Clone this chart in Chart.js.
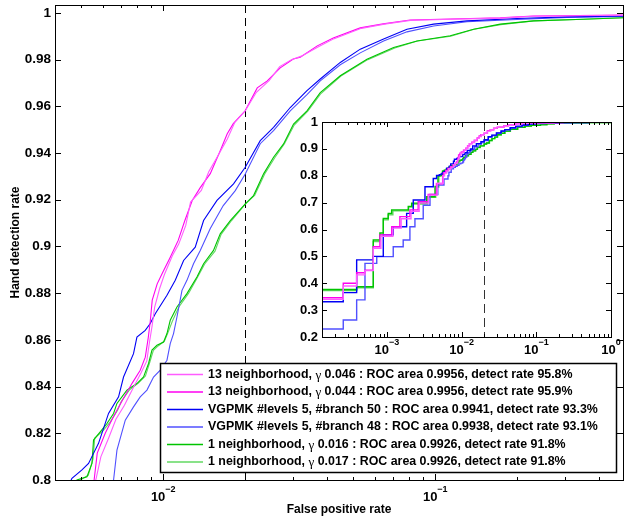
<!DOCTYPE html>
<html lang="en">
<head>
<meta charset="UTF-8">
<title>Hand detection ROC</title>
<style>
  body { margin: 0; background: #fff; }
  #wrap { position: relative; width: 625px; height: 519px; }
  #mainChart { position: absolute; left: 0; top: 0; }
  #insetChart { position: absolute; left: 290px; top: 112px; }
</style>
<script src="https://cdn.jsdelivr.net/npm/chart.js"></script>
</head>
<body>
<div id="wrap">
  <canvas id="mainChart" width="625" height="519"></canvas>
  <canvas id="insetChart" width="335" height="255"></canvas>
</div>
<script>
// legend text, one per curve
const seriesLabels = [
  '13 neighborhood, γ 0.046 : ROC area 0.9956, detect rate 95.8%',
  '13 neighborhood, γ 0.044 : ROC area 0.9956, detect rate 95.9%',
  'VGPMK #levels 5, #branch 50 : ROC area 0.9941, detect rate 93.3%',
  'VGPMK #levels 5, #branch 48 : ROC area 0.9938, detect rate 93.1%',
  '1 neighborhood, γ 0.016 : ROC area 0.9926, detect rate 91.8%',
  '1 neighborhood, γ 0.017 : ROC area 0.9926, detect rate 91.8%'
];

// false positive rate / detection rate
const fprM46 = [1e-4, 2.6e-4, 3.93e-4, 5.08e-4, 6.56e-4, 8.3e-4, 1.2e-3, 1.55e-3, 2.1e-3, 2.7e-3, 3.6e-3, 4.7e-3,
  0.00565, 0.0059, 0.0063, 0.0067, 0.0072, 0.0078, 0.0083, 0.0087, 0.0089, 0.0091, 0.0093, 0.0097, 0.0101, 0.0108,
  0.0114, 0.0121, 0.0126, 0.0138, 0.0147, 0.0161, 0.0172, 0.0183, 0.0200, 0.0220, 0.0245, 0.0268, 0.0296, 0.0322,
  0.0372, 0.0425, 0.0535, 0.065, 0.081, 0.114, 0.173, 0.229, 0.49, 1];
const tprM46 = [0.340, 0.390, 0.431, 0.447, 0.530, 0.575, 0.605, 0.640, 0.668, 0.698, 0.728, 0.772,
  0.800, 0.810, 0.818, 0.826, 0.832, 0.840, 0.846, 0.851, 0.859, 0.866, 0.874, 0.882, 0.888, 0.896,
  0.901, 0.909, 0.919, 0.924, 0.932, 0.940, 0.946, 0.953, 0.958, 0.966, 0.971, 0.977, 0.980, 0.9815,
  0.9855, 0.989, 0.9934, 0.9952, 0.9968, 0.9973, 0.9978, 0.9986, 0.9990, 1];

const fprM44 = [1e-4, 2.6e-4, 3.93e-4, 5.08e-4, 6.56e-4, 8.05e-4, 1.16e-3, 1.49e-3, 2.03e-3, 2.62e-3, 3.57e-3, 4.6e-3,
  0.00557, 0.00572, 0.00612, 0.00655, 0.00707, 0.00769, 0.00823, 0.00859, 0.00881, 0.00896, 0.00911, 0.0095, 0.00992,
  0.0106, 0.01135, 0.0120, 0.01278, 0.01368, 0.01489, 0.0162, 0.01719, 0.01809, 0.0200, 0.02216, 0.02412, 0.02692,
  0.03006, 0.03189, 0.03683, 0.04217, 0.053, 0.0644, 0.0809, 0.1135, 0.1734, 0.2293, 0.4912, 1];
const tprM44 = [0.346, 0.400, 0.439, 0.449, 0.536, 0.580, 0.610, 0.648, 0.673, 0.703, 0.730, 0.770,
  0.800, 0.8115, 0.820, 0.827, 0.834, 0.8415, 0.847, 0.8526, 0.861, 0.868, 0.877, 0.884, 0.8885,
  0.8953, 0.9026, 0.911, 0.9197, 0.9252, 0.9312, 0.941, 0.9483, 0.9526, 0.9581, 0.9679, 0.9709, 0.9765,
  0.9803, 0.981, 0.9859, 0.9893, 0.9936, 0.9953, 0.997, 0.9974, 0.9979, 0.9987, 0.9991, 1];

const fprB50 = [1e-4, 2.6e-4, 3.93e-4, 6.56e-4, 8.93e-4, 1.214e-3, 1.835e-3, 2.25e-3, 3.23e-3, 4.17e-3,
  0.004617, 0.005025, 0.005314, 0.005542, 0.005782, 0.006293, 0.006851, 0.007145, 0.007775, 0.008003, 0.008587,
  0.008958, 0.009346, 0.01032, 0.01107, 0.01188, 0.01311, 0.01407, 0.01576, 0.01813, 0.02002, 0.02273, 0.02544,
  0.0293, 0.03376, 0.03778, 0.04475, 0.053, 0.06457, 0.0787, 0.09858, 0.1308, 0.1998, 0.305, 0.4995, 1];
const tprB50 = [0.331, 0.365, 0.487, 0.500, 0.580, 0.610, 0.660, 0.710, 0.759, 0.790,
  0.8007, 0.8043, 0.8071, 0.8114, 0.8157, 0.8285, 0.8356, 0.8441, 0.8541, 0.8612, 0.8641,
  0.867, 0.8712, 0.8791, 0.8855, 0.894, 0.8997, 0.9111, 0.9197, 0.9268, 0.9339, 0.9453, 0.951,
  0.9595, 0.9667, 0.9717, 0.9788, 0.9845, 0.9888, 0.993, 0.9952, 0.9966, 0.9976, 0.9983, 0.9987, 1];

const fprB48 = [1e-4, 2.6e-4, 3.93e-4, 5.08e-4, 7.3e-4, 1.214e-3, 1.65e-3, 2.03e-3, 2.37e-3, 3.06e-3, 3.77e-3, 4.8e-3, 5.8e-3,
  0.006567, 0.006758, 0.007251, 0.007775, 0.008229, 0.008712, 0.009211, 0.00975, 0.01032, 0.01061, 0.01091, 0.01123,
  0.01172, 0.01222, 0.01292, 0.01368, 0.01489, 0.01662, 0.0184, 0.02002, 0.02273, 0.02544, 0.0293, 0.03376, 0.03778,
  0.04475, 0.053, 0.06457, 0.0787, 0.09858, 0.1308, 0.1998, 0.305, 0.4995, 1];
const tprB48 = [0.230, 0.263, 0.338, 0.474, 0.499, 0.536, 0.561, 0.610, 0.640, 0.690, 0.730, 0.765, 0.788,
  0.800, 0.8128, 0.8256, 0.8313, 0.8356, 0.8385, 0.8441, 0.847, 0.8513, 0.8584, 0.8627, 0.8698,
  0.8812, 0.8855, 0.8926, 0.8983, 0.9077, 0.9175, 0.9239, 0.931, 0.944, 0.9496, 0.9581, 0.965, 0.9709,
  0.9778, 0.9829, 0.988, 0.9919, 0.9944, 0.9962, 0.9972, 0.9981, 0.9985, 1];

const fprG16 = [1e-4, 3.93e-4, 6.56e-4, 8.05e-4, 8.93e-4, 1.04e-3, 1.156e-3, 1.93e-3, 2.14e-3, 3.4e-3, 4.4e-3,
  0.004817, 0.005243, 0.00547, 0.005542, 0.005866, 0.006209, 0.006567, 0.006758, 0.007354, 0.008003, 0.008466,
  0.008831, 0.009089, 0.009481, 0.01003, 0.01032, 0.01061, 0.01123, 0.01222, 0.0133, 0.01407, 0.0153, 0.0162,
  0.01764, 0.02002, 0.02148, 0.02338, 0.02544, 0.02769, 0.03013, 0.03376, 0.03778, 0.04475, 0.05609, 0.07028,
  0.08566, 0.1135, 0.1383, 0.1734, 0.2298, 0.351, 0.4995, 1];
const tprG16 = [0.377, 0.387, 0.561, 0.587, 0.641, 0.660, 0.673, 0.686, 0.698, 0.722, 0.760,
  0.800, 0.8014, 0.8071, 0.8171, 0.8206, 0.8242, 0.8285, 0.8328, 0.8385, 0.8413, 0.8441,
  0.8499, 0.8556, 0.8577, 0.8591, 0.8627, 0.8684, 0.8741, 0.8798, 0.8869, 0.8926, 0.8983, 0.9054,
  0.9111, 0.9182, 0.9218, 0.9311, 0.9382, 0.9439, 0.9524, 0.9581, 0.9659, 0.9731, 0.9802, 0.9852,
  0.988, 0.9902, 0.993, 0.9952, 0.9966, 0.9973, 0.998, 1];

const fprG17 = [1e-4, 3.93e-4, 6.56e-4, 8.05e-4, 8.93e-4, 1.04e-3, 1.2e-3, 1.95e-3, 2.2e-3, 3.5e-3, 4.5e-3,
  0.00495, 0.0053, 0.00552, 0.0056, 0.0060, 0.0064, 0.0068, 0.0070, 0.0075, 0.0081, 0.0086, 0.0089, 0.0092,
  0.0096, 0.0101, 0.0104, 0.0108, 0.0114, 0.0124, 0.0134, 0.0142, 0.0155, 0.0163, 0.0178, 0.0200, 0.0217,
  0.0236, 0.0257, 0.0279, 0.0303, 0.034, 0.038, 0.045, 0.0565, 0.071, 0.086, 0.114, 0.139, 0.174, 0.23, 0.35, 0.5, 1];
const tprG17 = [0.373, 0.383, 0.555, 0.580, 0.636, 0.655, 0.670, 0.684, 0.695, 0.720, 0.758,
  0.800, 0.802, 0.809, 0.818, 0.821, 0.825, 0.830, 0.8335, 0.8385, 0.8415, 0.8445, 0.850, 0.8555,
  0.8575, 0.8595, 0.863, 0.868, 0.874, 0.880, 0.887, 0.8925, 0.898, 0.905, 0.911, 0.918, 0.922,
  0.931, 0.938, 0.944, 0.952, 0.958, 0.9655, 0.973, 0.980, 0.985, 0.988, 0.990, 0.993, 0.995, 0.9966, 0.9973, 0.998, 1];

// axis ticks
const yTicksMain = [0.8, 0.82, 0.84, 0.86, 0.88, 0.9, 0.92, 0.94, 0.96, 0.98, 1];
const yTicksInset = [0.2, 0.3, 0.4, 0.5, 0.6, 0.7, 0.8, 0.9, 1];
const xDecadesMain = [-3, -2, -1];
const xDecadesInset = [-4, -3, -2, -1, 0];
const thresholdFpr = 0.02;

const seriesFpr = [fprM46, fprM44, fprB50, fprB48, fprG16, fprG17];
const seriesTpr = [tprM46, tprM44, tprB50, tprB48, tprG16, tprG17];
const seriesColors = ['#ff5cff', '#ff00f0', '#0000f5', '#5050ff', '#00c400', '#62d862'];

const FONT = '"Liberation Sans", Arial, Helvetica, sans-serif';
Chart.defaults.font.family = FONT;
Chart.defaults.color = '#000';

function makeDatasets(stepped, width) {
  return seriesFpr.map((f, i) => ({
    label: seriesLabels[i],
    data: f.map((v, j) => ({ x: v, y: seriesTpr[i][j] })),
    borderColor: seriesColors[i],
    backgroundColor: seriesColors[i],
    borderWidth: width,
    pointRadius: 0,
    tension: 0,
    stepped: stepped,
    clip: 0,
    fill: false
  }));
}

// 10 with a raised exponent, centred on cx
function drawPow(ctx, cx, cy, exp) {
  const base = '10';
  const sup = exp === 0 ? '0' : '\u2212' + Math.abs(exp);
  ctx.font = 'bold 13px ' + FONT;
  const wb = ctx.measureText(base).width;
  ctx.font = 'bold 9px ' + FONT;
  const ws = ctx.measureText(sup).width;
  const left = cx - (wb + ws) / 2;
  ctx.textAlign = 'left';
  ctx.textBaseline = 'middle';
  ctx.font = 'bold 13px ' + FONT;
  ctx.fillText(base, left, cy);
  ctx.font = 'bold 9px ' + FONT;
  ctx.fillText(sup, left + wb, cy - 7);
}

// matlab style box: inward ticks, dashed threshold, 10^n labels
const axesDecor = {
  id: 'axesDecor',
  beforeDatasetsDraw(chart, args, o) {
    const { ctx, chartArea: a, scales: { x } } = chart;
    ctx.save();
    ctx.fillStyle = '#fff';
    ctx.fillRect(a.left, a.top, a.right - a.left, a.bottom - a.top);
    const px = Math.round(x.getPixelForValue(o.dashAt)) + 0.5;
    ctx.strokeStyle = o.dashColor;
    ctx.lineWidth = 1;
    ctx.setLineDash(o.dash);
    ctx.beginPath();
    ctx.moveTo(px, a.top);
    ctx.lineTo(px, a.bottom);
    ctx.stroke();
    ctx.restore();
  },
  afterDatasetsDraw(chart, args, o) {
    const { ctx, chartArea: a, scales: { x, y } } = chart;
    ctx.save();
    ctx.strokeStyle = '#000';
    ctx.lineWidth = 1;
    ctx.beginPath();
    o.yTicks.forEach(v => {
      const py = Math.round(y.getPixelForValue(v)) + 0.5;
      ctx.moveTo(a.left, py); ctx.lineTo(a.left + o.major, py);
      ctx.moveTo(a.right, py); ctx.lineTo(a.right - o.major, py);
    });
    o.decades.forEach(d => {
      for (let m = 1; m <= 9; m++) {
        const v = m * Math.pow(10, d);
        if (v < x.min || v > x.max) continue;
        const px = Math.round(x.getPixelForValue(v)) + 0.5;
        const len = m === 1 ? o.major : o.minor;
        ctx.moveTo(px, a.bottom); ctx.lineTo(px, a.bottom - len);
        ctx.moveTo(px, a.top); ctx.lineTo(px, a.top + len);
      }
    });
    ctx.stroke();
    ctx.strokeRect(Math.round(a.left) + 0.5, Math.round(a.top) + 0.5,
      Math.round(a.right - a.left), Math.round(a.bottom - a.top));
    ctx.fillStyle = '#000';
    o.decades.forEach(d => {
      const v = Math.pow(10, d);
      if (v >= x.min * 0.999 && v <= x.max * 1.001) {
        drawPow(ctx, x.getPixelForValue(v), a.bottom + o.labelGap, d);
      }
    });
    ctx.restore();
  }
};

// boxed legend at lower right of main axes
const boxLegend = {
  id: 'boxLegend',
  afterDraw(chart) {
    const ctx = chart.ctx;
    ctx.save();
    ctx.fillStyle = '#fff';
    ctx.fillRect(160, 363, 456, 109);
    ctx.strokeStyle = '#000';
    ctx.lineWidth = 1.5;
    ctx.strokeRect(160.5, 363.5, 456, 109);
    chart.data.datasets.forEach((ds, i) => {
      const cy = 374.5 + i * 17.5;
      ctx.strokeStyle = ds.borderColor;
      ctx.lineWidth = 1.5;
      ctx.beginPath();
      ctx.moveTo(167, cy);
      ctx.lineTo(203, cy);
      ctx.stroke();
      const parts = ds.label.split('γ');
      let tx = 208;
      ctx.fillStyle = '#000';
      ctx.textAlign = 'left';
      ctx.textBaseline = 'middle';
      ctx.font = 'bold 12.4px ' + FONT;
      ctx.fillText(parts[0], tx, cy);
      tx += ctx.measureText(parts[0]).width;
      if (parts.length > 1) {
        ctx.font = '13px "Liberation Serif", serif';
        ctx.fillText('γ', tx, cy + 1);
        tx += ctx.measureText('γ').width;
        ctx.font = 'bold 12.4px ' + FONT;
        ctx.fillText(parts[1], tx, cy);
      }
    });
    ctx.restore();
  }
};

const noPad = s => { s.paddingTop = 0; s.paddingBottom = 0; s.paddingLeft = 0; s.paddingRight = 0; };

new Chart(document.getElementById('mainChart'), {
  type: 'line',
  data: { datasets: makeDatasets(false, 1.1) },
  plugins: [axesDecor, boxLegend],
  options: {
    responsive: false,
    animation: false,
    layout: { padding: { left: 0, top: 5, right: 2, bottom: 0 } },
    plugins: {
      legend: { display: false },
      tooltip: { enabled: false },
      axesDecor: { yTicks: yTicksMain, decades: xDecadesMain, major: 6, minor: 3, labelGap: 17,
        dashAt: thresholdFpr, dashColor: '#000', dash: [8, 5] }
    },
    scales: {
      x: {
        type: 'logarithmic', min: 0.004, max: 0.49,
        ticks: { display: false },
        grid: { display: false },
        border: { display: false },
        title: { display: true, text: 'False positive rate', color: '#000',
          font: { size: 12, weight: 'bold' }, padding: { top: 0, bottom: 2 } },
        afterFit: s => { s.height = 39; noPad(s); }
      },
      y: {
        type: 'linear', min: 0.8, max: 1.0034,
        afterBuildTicks: s => { s.ticks = yTicksMain.map(v => ({ value: v })); },
        ticks: { callback: v => String(v), font: { size: 13.5, weight: 'bold' }, color: '#000', padding: 4 },
        grid: { display: false, drawTicks: false },
        border: { display: false },
        title: { display: true, text: 'Hand detection rate', color: '#000',
          font: { size: 12, weight: 'bold' }, padding: { top: 8, bottom: 0 } },
        afterFit: s => { s.width = 55; noPad(s); }
      }
    }
  }
});

new Chart(document.getElementById('insetChart'), {
  type: 'line',
  data: { datasets: makeDatasets(true, 1.4) },
  plugins: [axesDecor],
  options: {
    responsive: false,
    animation: false,
    layout: { padding: { left: 0, top: 10, right: 14, bottom: 0 } },
    plugins: {
      legend: { display: false },
      tooltip: { enabled: false },
      axesDecor: { yTicks: yTicksInset, decades: xDecadesInset, major: 5, minor: 3, labelGap: 13,
        dashAt: thresholdFpr, dashColor: '#333', dash: [9, 5] }
    },
    scales: {
      x: {
        type: 'logarithmic', min: 1.35e-4, max: 1,
        ticks: { display: false },
        grid: { display: false },
        border: { display: false },
        afterFit: s => { s.height = 30; noPad(s); }
      },
      y: {
        type: 'linear', min: 0.2, max: 1,
        afterBuildTicks: s => { s.ticks = yTicksInset.map(v => ({ value: v })); },
        ticks: { callback: v => String(v), font: { size: 13, weight: 'bold' }, color: '#000', padding: 4 },
        grid: { display: false, drawTicks: false },
        border: { display: false },
        afterFit: s => { s.width = 32; noPad(s); }
      }
    }
  }
});
</script>
</body>
</html>
